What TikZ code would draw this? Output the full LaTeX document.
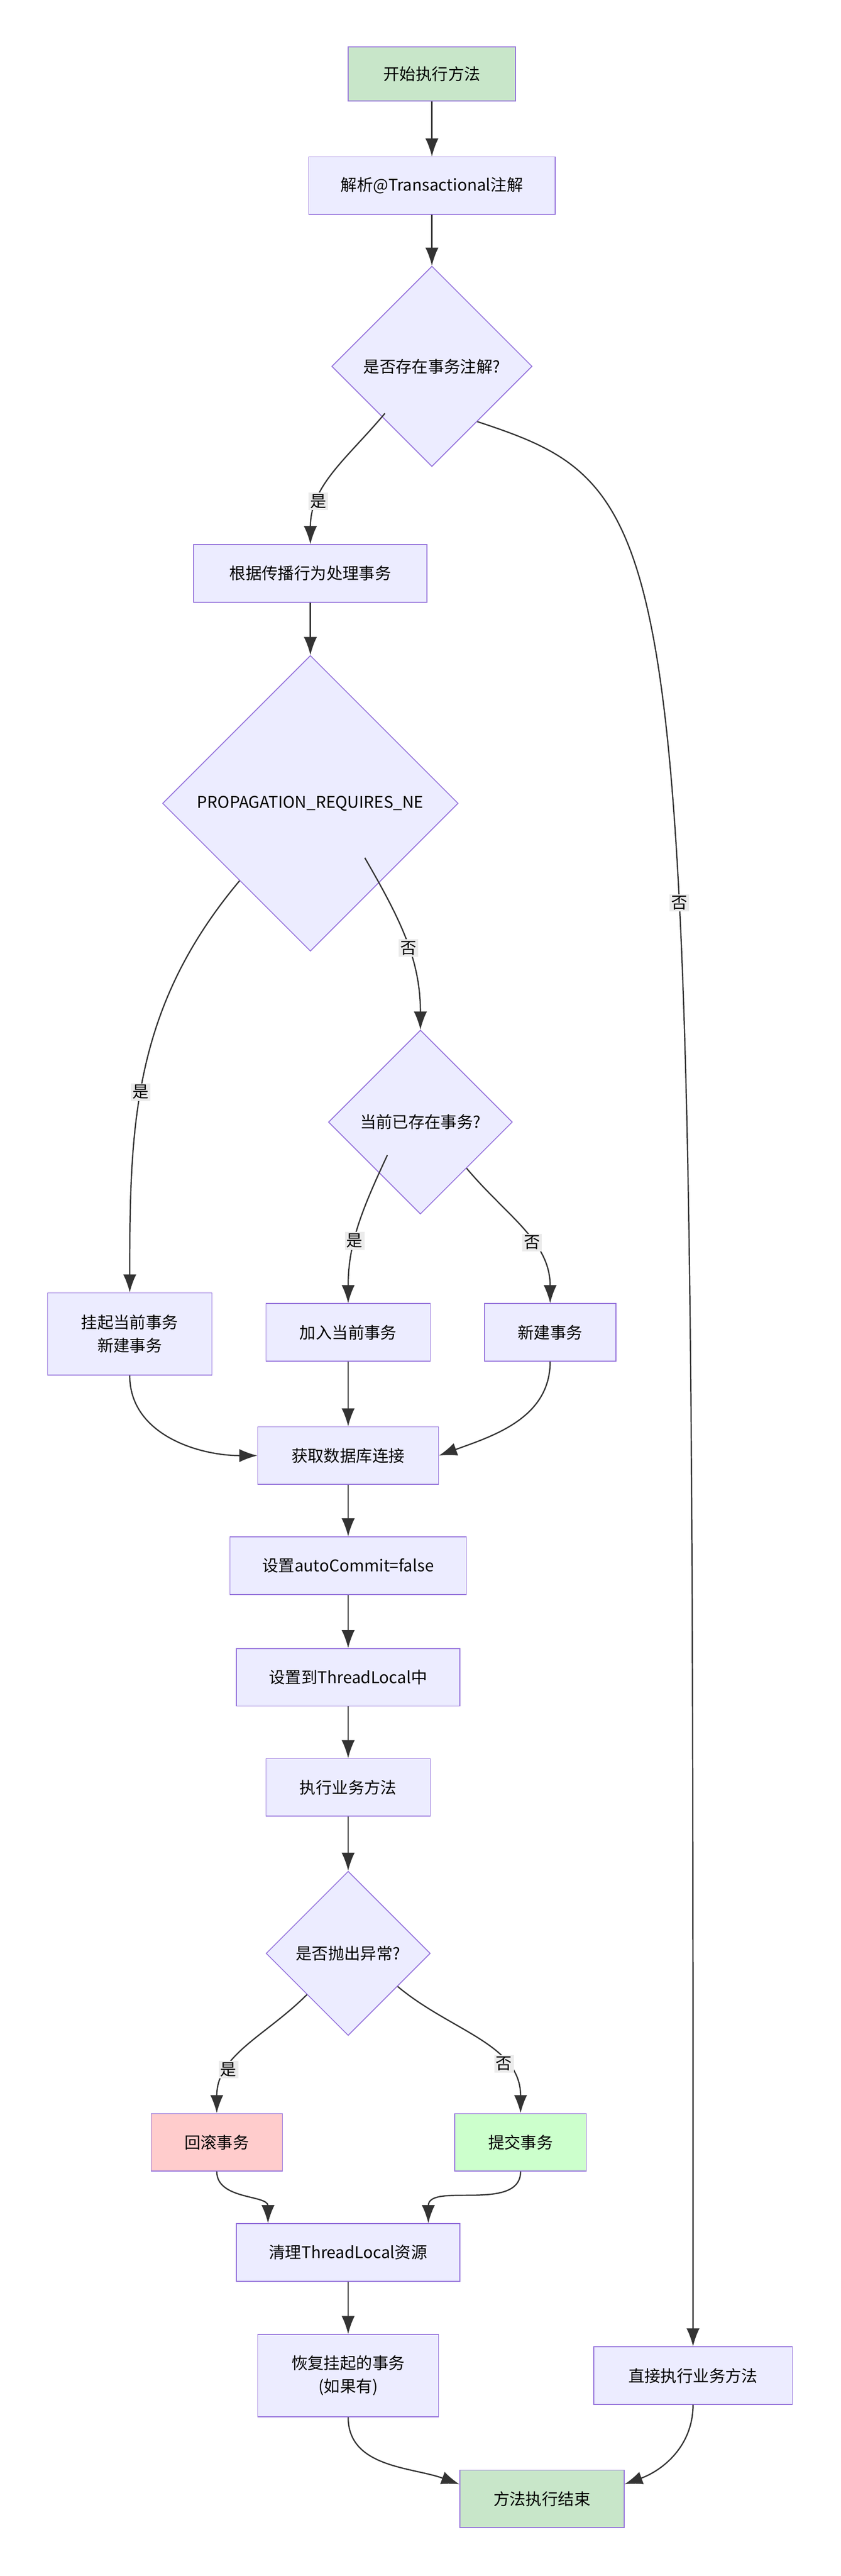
\documentclass[tikz,border=0pt]{standalone}
\usepackage{fontspec}
\setmainfont{Noto Sans CJK SC}
\usetikzlibrary{shapes.geometric,arrows.meta}
\definecolor{boxfill}{HTML}{ECECFF}
\definecolor{boxline}{HTML}{9370DB}
\definecolor{greenfill}{HTML}{C8E6C9}
\definecolor{redfill}{HTML}{FFCCCC}
\definecolor{okfill}{HTML}{CCFFCC}
\definecolor{edgecol}{HTML}{333333}
\tikzset{
  stepbox/.style={draw=boxline, fill=boxfill, line width=1.5pt, minimum height=3.5cm, inner sep=0pt, align=center},
  choice/.style={shape=diamond, draw=boxline, fill=boxfill, line width=1.5pt, inner sep=0pt, minimum width=#1, minimum height=#1},
  flow/.style={draw=edgecol, line width=2.2pt, -{Latex[length=1.1cm,width=0.8cm]}},
  tag/.style={fill=black!8, inner sep=3pt, font=\fontsize{28}{34}\selectfont}
}
\begin{document}
\begin{tikzpicture}[x=0.1cm, y=-0.1cm, font=\fontsize{28}{40}\selectfont]
    \fill[white] (0,0) rectangle (512,1568);
    \useasboundingbox (0,0) rectangle (512,1568);
    \node[stepbox, fill=greenfill, minimum width=10.2cm, minimum height=3.3cm] (start) at (263,45) {开始执行方法};
    \node[stepbox, minimum width=15cm] (parse) at (263,113) {解析@Transactional注解};
    \node[choice=12.2cm] (hasTx) at (263,223) {\makebox[0pt]{是否存在事务注解?}};
    \node[stepbox, minimum width=14.2cm] (prop) at (189,349) {根据传播行为处理事务};
    \node[choice=18cm] (reqNew) at (189,489) {\makebox[0pt]{PROPAGATION\_REQUIRES\_NE}};
    \node[choice=11.2cm] (exists) at (256,683) {\makebox[0pt]{当前已存在事务?}};
    \node[stepbox, minimum width=10cm, minimum height=5cm] (suspend) at (79,812) {挂起当前事务\\新建事务};
    \node[stepbox, minimum width=10cm] (join) at (212,811) {加入当前事务};
    \node[stepbox, minimum width=8cm] (newTx) at (335,811) {新建事务};
    \node[stepbox, minimum width=11cm] (getConn) at (212,886) {获取数据库连接};
    \node[stepbox, minimum width=14.4cm] (autoCommit) at (212,953) {设置autoCommit=false};
    \node[stepbox, minimum width=13.6cm] (bindTl) at (212,1021) {设置到ThreadLocal中};
    \node[stepbox, minimum width=10cm] (exec) at (212,1088) {执行业务方法};
    \node[choice=10cm] (hasEx) at (212,1189) {\makebox[0pt]{是否抛出异常?}};
    \node[stepbox, fill=redfill, minimum width=8cm] (rollback) at (132,1304) {回滚事务};
    \node[stepbox, fill=okfill, minimum width=8cm] (commit) at (317,1304) {提交事务};
    \node[stepbox, minimum width=13.6cm] (clean) at (212,1371) {清理ThreadLocal资源};
    \node[stepbox, minimum width=11cm, minimum height=5cm] (restore) at (212,1446) {恢复挂起的事务\\(如果有)};
    \node[stepbox, minimum width=12.1cm] (direct) at (422,1446) {直接执行业务方法};
    \node[stepbox, fill=greenfill, minimum width=10cm] (finish) at (330,1521) {方法执行结束};
    % edges
    \draw[flow] (start) -- (parse);
    \draw[flow] (parse) -- (hasTx);
    \draw[flow] (hasTx.south west) ++(2,-2) to[out=-130,in=90] node[tag, pos=0.72]{是} (prop.north);
    \draw[flow] (hasTx.south east) ++(-3,3) .. controls (422,300) and (422,320) .. node[tag, pos=0.6]{否} (direct.north);
    \draw[flow] (prop) -- (reqNew);
    \draw[flow] (reqNew.south west) ++(2,2) to[out=-130,in=90] node[tag, pos=0.55]{是} (suspend.north);
    \draw[flow] (reqNew.south east) ++(-12,-12) to[out=-60,in=90] node[tag, pos=0.55]{否} (exists.north);
    \draw[flow] (exists.south west) ++(8,-8) to[out=-115,in=90] node[tag, pos=0.6]{是} (join.north);
    \draw[flow] (exists.south east) ++(0,0) to[out=-50,in=90] node[tag, pos=0.6]{否} (newTx.north);
    \draw[flow] (suspend.south) to[out=-90,in=180] (getConn.west);
    \draw[flow] (join) -- (getConn);
    \draw[flow] (newTx.south) to[out=-90,in=20] (getConn.east);
    \draw[flow] (getConn) -- (autoCommit);
    \draw[flow] (autoCommit) -- (bindTl);
    \draw[flow] (bindTl) -- (exec);
    \draw[flow] (exec) -- (hasEx);
    \draw[flow] (hasEx.south west) ++(0,0) to[out=-135,in=90] node[tag, pos=0.7]{是} (rollback.north);
    \draw[flow] (hasEx.south east) ++(5,-5) to[out=-40,in=90] node[tag, pos=0.7]{否} (commit.north);
    \draw[flow] (rollback.south) to[out=-90,in=90] (clean.160);
    \draw[flow] (commit.south) to[out=-90,in=90] (clean.20);
    \draw[flow] (clean) -- (restore);
    \draw[flow] (restore.south) to[out=-90,in=160] (finish.170);
    \draw[flow] (direct.south) to[out=-90,in=20] (finish.10);
\end{tikzpicture}
\end{document}
